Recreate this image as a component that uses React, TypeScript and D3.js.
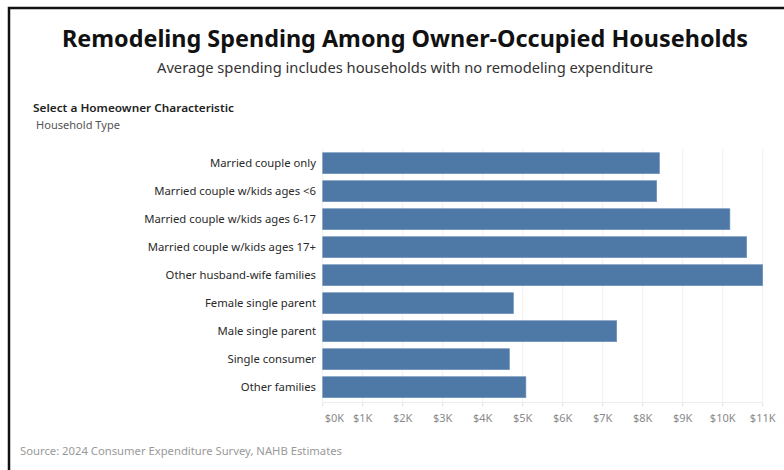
import React, { useEffect } from "react";
import * as d3 from "d3";

const categories = [
  "Married couple only",
  "Married couple w/kids ages <6",
  "Married couple w/kids ages 6-17",
  "Married couple w/kids ages 17+",
  "Other husband-wife families",
  "Female single parent",
  "Male single parent",
  "Single consumer",
  "Other families",
];

// average remodeling spending, dollars
const spending = [8420, 8350, 10180, 10600, 11000, 4770, 7350, 4670, 5080];

const xTicks = [0, 1000, 2000, 3000, 4000, 5000, 6000, 7000, 8000, 9000, 10000, 11000];

const WIDTH = 784;
const HEIGHT = 470;
const FONT = "'Noto Sans', 'Open Sans', sans-serif";

export default function App() {
  useEffect(() => {
    document.body.style.margin = "0";
  }, []);

  const x = d3.scaleLinear().domain([0, 11000]).range([322.7, 762.7]);
  const y = d3
    .scaleBand<string>()
    .domain(categories)
    .range([149.2, 401.2])
    .paddingInner(0.25)
    .paddingOuter(0.125);

  const axisY = 402.5;
  const fmt = (v: number) => `$${v / 1000}K`;

  return (
    <svg width={WIDTH} height={HEIGHT} style={{ display: "block", background: "#fff" }} fontFamily={FONT}>
      {/* frame, clipped on right and bottom */}
      <rect x={9} y={8} width={900} height={600} fill="none" stroke="#111" strokeWidth={2.5} />

      <text
        x={405}
        y={47}
        textAnchor="middle"
        fontSize={24}
        fontWeight={700}
        fill="#111"
        textLength={686}
        lengthAdjust="spacingAndGlyphs"
      >
        Remodeling Spending Among Owner-Occupied Households
      </text>
      <text
        x={405}
        y={73}
        textAnchor="middle"
        fontSize={14.5}
        fill="#333"
        textLength={496}
        lengthAdjust="spacingAndGlyphs"
      >
        Average spending includes households with no remodeling expenditure
      </text>

      <text x={33} y={112} fontSize={11} fontWeight={600} fill="#222" textLength={201} lengthAdjust="spacingAndGlyphs">
        Select a Homeowner Characteristic
      </text>
      <text x={36} y={129} fontSize={10} fill="#555" textLength={84} lengthAdjust="spacingAndGlyphs">
        Household Type
      </text>

      {/* gridlines */}
      {xTicks.map((t) => (
        <line key={"g" + t} x1={x(t)} x2={x(t)} y1={148} y2={axisY} stroke="#f0f0f0" strokeWidth={1} />
      ))}
      <line x1={x(0)} x2={x(11000)} y1={axisY} y2={axisY} stroke="#eeeeee" strokeWidth={1} />
      {xTicks.map((t) => (
        <line key={"t" + t} x1={x(t)} x2={x(t)} y1={axisY} y2={axisY + 4} stroke="#e2e2e2" strokeWidth={1} />
      ))}

      {/* bars */}
      {categories.map((c, i) => (
        <rect
          key={c}
          x={x(0)}
          y={y(c)}
          width={x(spending[i]) - x(0)}
          height={y.bandwidth()}
          fill="#4e79a7"
          stroke="#6f92bb"
          strokeWidth={0.6}
        />
      ))}

      {/* category labels */}
      {categories.map((c) => (
        <text
          key={"l" + c}
          x={316}
          y={(y(c) ?? 0) + y.bandwidth() / 2}
          dy="0.35em"
          textAnchor="end"
          fontSize={11.3}
          fill="#2a2a2a"
        >
          {c}
        </text>
      ))}

      {/* tick labels */}
      {xTicks.map((t, i) => (
        <text
          key={"x" + t}
          x={i === 0 ? x(t) + 2 : x(t)}
          y={422}
          textAnchor={i === 0 ? "start" : "middle"}
          fontSize={11}
          fill="#8a8a8a"
        >
          {fmt(t)}
        </text>
      ))}

      <text x={20} y={455} fontSize={10} fill="#999" textLength={322} lengthAdjust="spacingAndGlyphs">
        Source: 2024 Consumer Expenditure Survey, NAHB Estimates
      </text>
    </svg>
  );
}
